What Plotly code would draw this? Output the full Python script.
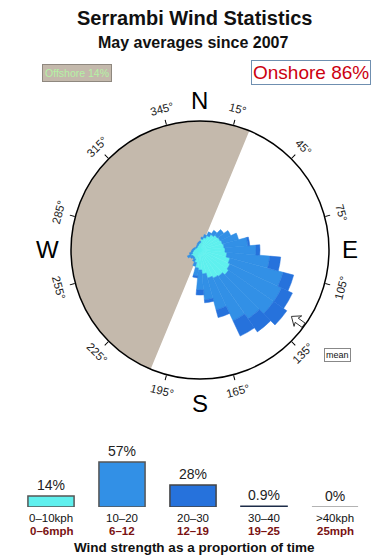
import math
import plotly.graph_objects as go

# ---------------- data ----------------
directions = list(range(0, 360, 10))
# radial size of each speed band per direction (relative units, stacked)
band_0_10 = [7, 11, 13, 16, 19, 21, 22, 23, 24, 25, 27, 31, 33, 35, 32, 31, 29, 24,
             20, 18, 13, 10, 9, 9, 10, 8, 7, 6, 5, 5, 4, 4, 4, 5, 5, 6]
band_10_20 = [2, 2, 3, 4, 5, 8, 12, 17, 24, 31, 43, 55, 57, 55, 52, 47, 33, 26,
              20, 8, 4, 3, 2, 3, 4, 3, 2, 2, 2, 1, 1, 1, 1, 1, 2, 2]
band_20_30 = [0, 0, 0, 0, 0, 0, 0, 0, 2, 4, 11, 11, 12, 16, 16, 17, 8, 3,
              5, 2, 0, 0, 0, 0, 0, 0, 0, 0, 0, 0, 0, 0, 0, 0, 0, 0]

offshore_center = 292.5
offshore_width = 180
mean_direction = 126

speed_kph = ["0–10kph", "10–20", "20–30", "30–40", ">40kph"]
speed_mph = ["0–6mph", "6–12", "12–19", "19–25", "25mph"]
speed_share = [14, 57, 28, 0.9, 0]
speed_labels = ["14%", "57%", "28%", "0.9%", "0%"]

compass_ticks = [15, 45, 75, 105, 135, 165, 195, 225, 255, 285, 315, 345]
cardinals = {"N": 0, "E": 90, "S": 180, "W": 270}

title = "Serrambi Wind Statistics"
subtitle = "May averages since 2007"
offshore_text = "Offshore 14%"
onshore_text = "Onshore 86%"
footer = "Wind strength as a proportion of time"

# ---------------- style ----------------
FONT = "Liberation Sans, Arial, sans-serif"
W, H = 390, 560
CX, CY, RPX = 200, 250, 129
RMAX = 129
band_colors = ["#5ff0ee", "#3290e6", "#2672dc"]
bar_fill = ["#5ff0ee", "#3290e6", "#2672dc", "#1d2c48", "#9a9a9a"]
bar_line = ["#555555", "#555555", "#444444", "#1d2c48", "#9a9a9a"]


def px(x, y):
    return x / W, 1 - y / H


def note(x, y, text, **kw):
    xx, yy = px(x, y)
    d = dict(x=xx, y=yy, xref="paper", yref="paper", text=text, showarrow=False,
             xanchor="center", yanchor="middle")
    d.update(kw)
    return d


fig = go.Figure()

# offshore sector
fig.add_trace(go.Barpolar(
    r=[RMAX], theta=[offshore_center], width=[offshore_width],
    marker=dict(color="#c4b9ac", line=dict(width=0)),
    subplot="polar", hoverinfo="skip", showlegend=False))

for vals, col in zip([band_0_10, band_10_20, band_20_30], band_colors):
    fig.add_trace(go.Barpolar(
        r=vals, theta=directions, width=[10] * len(directions),
        marker=dict(color=col, line=dict(width=0.5, color=col)),
        subplot="polar", showlegend=False))

# mean arrow (polygon pointing toward centre)
r0 = 113
shape = [(0, 0), (8, -6.5), (6.5, -2.6), (15, -2.6), (15, 2.6), (6.5, 2.6), (8, 6.5), (0, 0)]
ar, at = [], []
for a, b in shape:
    rr = r0 + a
    ar.append(math.hypot(rr, b))
    at.append(mean_direction + math.degrees(math.atan2(b, rr)))
fig.add_trace(go.Scatterpolar(
    r=ar, theta=at, mode="lines", fill="toself", fillcolor="white",
    line=dict(color="#333333", width=1), subplot="polar", showlegend=False,
    hoverinfo="skip"))

# speed distribution bars
fig.add_trace(go.Bar(
    x=speed_kph, y=speed_share, text=speed_labels, textposition="outside",
    textfont=dict(size=14, color="#222222", family=FONT),
    marker=dict(color=bar_fill, line=dict(color=bar_line, width=1.5)),
    cliponaxis=False, xaxis="x", yaxis="y", showlegend=False, width=0.65))

ann = []
ann.append(note(194, 18, f"<b>{title}</b>", font=dict(size=20, color="#111", family=FONT)))
ann.append(note(193, 43, f"<b>{subtitle}</b>", font=dict(size=16, color="#111", family=FONT)))
ann.append(note(76.5, 73.5, offshore_text, bgcolor="#c4b9ac", bordercolor="#8f887f",
                borderwidth=1, borderpad=2, font=dict(size=10.5, color="#b4f2a4", family=FONT)))
ann.append(note(311, 73, onshore_text, bgcolor="white", bordercolor="#6f8fb0",
                borderwidth=1, borderpad=1, font=dict(size=19, color="#cc0010", family=FONT)))
ann.append(note(337, 355, "mean", bgcolor="white", bordercolor="#888888", borderwidth=1,
                borderpad=1, font=dict(size=9, color="#111", family=FONT)))
ann.append(note(194, 547, f"<b>{footer}</b>", font=dict(size=13.5, color="#111", family=FONT)))

for t in compass_ticks:
    rad = math.radians(t)
    x = CX + 146 * math.sin(rad)
    y = CY - 146 * math.cos(rad)
    if t <= 90:
        ang = t
    elif t < 270:
        ang = t - 180
    else:
        ang = t - 360
    ann.append(note(x, y, f"{t}°", textangle=ang,
                    font=dict(size=11.5, color="#222", family=FONT)))

for name, t in cardinals.items():
    rad = math.radians(t)
    rr = 150 if name in ("N", "E") else 153
    x = CX + rr * math.sin(rad)
    y = CY - rr * math.cos(rad)
    ann.append(note(x, y, name, font=dict(size=24, color="#000", family=FONT)))

for k, m in zip(speed_kph, speed_mph):
    ann.append(dict(x=k, xref="x", y=1 - 518 / H, yref="paper", text=k, showarrow=False,
                    xanchor="center", yanchor="middle",
                    font=dict(size=11.5, color="#111", family=FONT)))
    ann.append(dict(x=k, xref="x", y=1 - 531 / H, yref="paper", text=f"<b>{m}</b>",
                    showarrow=False, xanchor="center", yanchor="middle",
                    font=dict(size=11.5, color="#7a1212", family=FONT)))

bar_base = 507
bar_top = bar_base - 60 * 45 / 57

fig.update_layout(
    width=W, height=H, margin=dict(l=0, r=0, t=0, b=0),
    paper_bgcolor="white", plot_bgcolor="white", showlegend=False,
    font=dict(family=FONT),
    polar=dict(
        domain=dict(x=[(CX - RPX) / W, (CX + RPX) / W], y=[1 - (CY + RPX) / H, 1 - (CY - RPX) / H]),
        bgcolor="white", barmode="stack", bargap=0,
        radialaxis=dict(range=[0, RMAX], visible=False, showgrid=False),
        angularaxis=dict(rotation=90, direction="clockwise", showgrid=False,
                         showline=True, linecolor="#000", linewidth=1.5,
                         tickmode="array", tickvals=compass_ticks, ticks="outside",
                         ticklen=5, tickcolor="#000", showticklabels=False),
    ),
    xaxis=dict(domain=[15.5 / W, 370.5 / W], anchor="y", showticklabels=False,
               showgrid=False, showline=False, zeroline=False, ticks=""),
    yaxis=dict(domain=[1 - bar_base / H, 1 - bar_top / H], range=[0, 60], visible=False,
               anchor="x"),
    annotations=ann,
)

fig.write_html("out.html")
